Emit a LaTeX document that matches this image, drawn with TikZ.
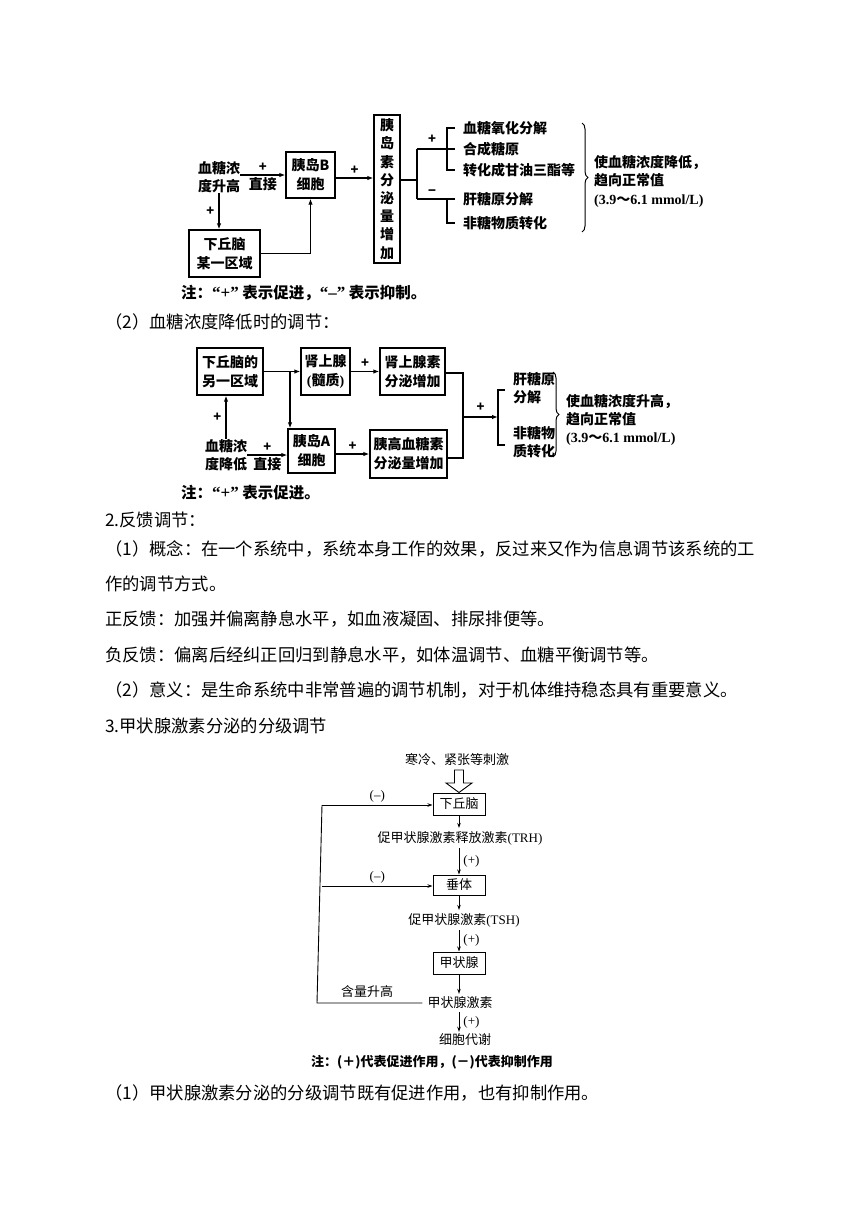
\documentclass[tikz,border=0pt]{standalone}
\usepackage{fontspec}
\setmainfont{Noto Sans CJK SC}
\newfontfamily\lat{Liberation Serif}
\usetikzlibrary{arrows.meta,decorations.pathreplacing}
\begin{document}
\begin{tikzpicture}[x=1pt,y=-1pt,
  body/.style={anchor=west,inner sep=0,font=\fontsize{17.3}{20}\selectfont},
  dtxt/.style={inner sep=0,align=center,font=\fontsize{14}{18}\selectfont\bfseries},
  bx/.style={draw,line width=1.3pt,inner sep=0,align=center,font=\fontsize{14}{19}\selectfont\bfseries},
  ln/.style={line width=1.2pt},
  arr/.style={ln,-{Latex[length=6pt,width=4.5pt]}},
  lab/.style={inner sep=0,font=\fontsize{13}{13}\selectfont\bfseries},
  note/.style={anchor=west,inner sep=0,font=\fontsize{15.5}{15.5}\selectfont\bfseries},
  brc/.style={line width=1pt,decorate,decoration={brace,amplitude=6pt}},
  t3/.style={inner sep=0,align=center,font=\fontsize{13}{13}\selectfont},
  bx3/.style={draw,line width=1pt,inner sep=0,align=center,font=\fontsize{13}{13}\selectfont,minimum width=52pt},
  ln3/.style={line width=0.9pt},
  arr3/.style={ln3,-{Stealth[length=5pt,width=3.5pt]}}
]
\useasboundingbox[fill=white] (0,0) rectangle (860,1216);

% ---------- Diagram 1 ----------
\node[dtxt] (s1) at (219,177) {血糖浓\\度升高};
\node[bx,minimum width=49pt,minimum height=46pt] (B) at (310.5,175) {胰岛B\\细胞};
\node[bx,minimum width=26pt,minimum height=148pt,font=\fontsize{14}{18.2}\selectfont\bfseries] (V) at (387,189) {胰\\岛\\素\\分\\泌\\量\\增\\加};
\node[bx,minimum width=71pt,minimum height=47pt] (H) at (224.5,253.5) {下丘脑\\某一区域};
\draw[arr] (s1.east|-B.west) -- (B.west) node[midway,above=3pt,lab]{+} node[midway,below=2pt,dtxt]{直接};
\draw[arr] (B.east|-0,178) -- (V.west|-0,178) node[midway,above=3pt,lab]{+};
\draw[arr] (s1.south) -- (s1.south|-H.north) node[midway,left=4pt,lab]{+};
\draw[arr] (H.east) -| (B.south);

\node[dtxt,anchor=west] (t1) at (463,128) {血糖氧化分解};
\node[dtxt,anchor=west] (t2) at (463,149) {合成糖原};
\node[dtxt,anchor=west] (t3) at (463,170) {转化成甘油三酯等};
\node[dtxt,anchor=west] (t4) at (463,199) {肝糖原分解};
\node[dtxt,anchor=west] (t5) at (463,223) {非糖物质转化};
\coordinate (j1) at (417,180);
\draw[ln] (V.east|-j1) -- (j1);
\draw[ln] ([xshift=-46pt]t2.west) -- ([xshift=-46pt]t4.west);
\draw[ln] ([xshift=-46pt]t2.west) -- ([xshift=-16pt]t2.west) node[midway,above=5pt,lab]{+};
\draw[ln] ([xshift=-46pt]t4.west) -- ([xshift=-16pt]t4.west) node[midway,above=3pt,lab]{−};
\draw[ln] ([xshift=-8pt]t1.west) -- ([xshift=-16pt]t1.west) -- ([xshift=-16pt]t3.west) -- ([xshift=-8pt]t3.west);
\draw[ln] ([xshift=-16pt]t2.west) -- ([xshift=-8pt]t2.west);
\draw[ln] ([xshift=-8pt]t4.west) -- ([xshift=-16pt]t4.west) -- ([xshift=-16pt]t5.west) -- ([xshift=-8pt]t5.west);
\coordinate (b1a) at (582,123);
\coordinate (b1b) at (582,232);
\draw[brc] (b1a) -- (b1b);
\node[dtxt,anchor=west,align=left,font=\fontsize{14}{18.5}\selectfont\bfseries] (r1) at (594,181) {使血糖浓度降低，\\趋向正常值\\{\lat (3.9}～{\lat 6.1 mmol/L)}};
\node[note] (n1) at (181,293) {注：{\lat\bfseries\fontsize{17}{17}\selectfont “+”} 表示促进，{\lat\bfseries\fontsize{17}{17}\selectfont “–”} 表示抑制。};

\node[body] (p1) at (105,322) {（2）血糖浓度降低时的调节：};

% ---------- Diagram 2 ----------
\node[bx,minimum width=66pt,minimum height=47pt] (D1) at (230,371.5) {下丘脑的\\另一区域};
\node[bx,minimum width=49pt,minimum height=47pt] (S) at (325.5,371.5) {肾上腺\\{\lat (}髓质{\lat )}};
\node[bx,minimum width=65pt,minimum height=47pt] (SS) at (412.5,371.5) {肾上腺素\\分泌增加};
\node[bx,minimum width=47pt,minimum height=44pt] (A) at (311.5,451) {胰岛A\\细胞};
\node[bx,minimum width=77pt,minimum height=48pt] (G) at (408.5,454) {胰高血糖素\\分泌量增加};
\node[dtxt] (s2) at (226,455) {血糖浓\\度降低};
\draw[arr] (D1.east) -- (S.west);
\coordinate (jb) at (290,371.5);
\draw[arr] (jb) -- (jb|-A.north);
\draw[arr] (S.east) -- (SS.west) node[midway,above=3pt,lab]{+};
\draw[arr] (s2.north) -- (s2.north|-D1.south) node[midway,left=4pt,lab]{+};
\draw[arr] (s2.east) -- (s2.east-|A.west) node[midway,above=3pt,lab]{+} node[midway,below=2pt,dtxt]{直接};
\draw[arr] ([yshift=-3pt]A.east) -- ([yshift=-3pt]A.east-|G.west) node[midway,above=3pt,lab]{+};
\coordinate (jc) at (463,417);
\draw[ln] (SS.east|-0,373) -| (jc);
\draw[ln] (G.east|-0,458) -| (jc);
\node[dtxt,anchor=west,align=left] (u1) at (513,388.5) {肝糖原\\分解};
\node[dtxt,anchor=west,align=left] (u2) at (513,442.5) {非糖物\\质转化};
\coordinate (k1) at (498,390);
\coordinate (k2) at (498,445);
\draw[arr] (jc) -- (jc-|k1) node[midway,above=5pt,lab]{+};
\draw[ln] ([xshift=7pt]k1) -- (k1) -- (k2) -- ([xshift=7pt]k2);
\coordinate (b2a) at (553,372);
\coordinate (b2b) at (553,457);
\draw[brc] (b2a) -- (b2b);
\node[dtxt,anchor=west,align=left,font=\fontsize{14}{18}\selectfont\bfseries] (r2) at (566,420) {使血糖浓度升高，\\趋向正常值\\{\lat (3.9}～{\lat 6.1 mmol/L)}};
\node[note] (n2) at (181,493) {注：{\lat\bfseries\fontsize{17}{17}\selectfont “+”} 表示促进。};

% ---------- Text ----------
\node[body] (q1) at (105,520) {2.反馈调节：};
\node[body] (q2) at (105,549) {（1）概念：在一个系统中，系统本身工作的效果，反过来又作为信息调节该系统的工};
\node[body] (q3) at (105,584) {作的调节方式。};
\node[body] (q4) at (105,619) {正反馈：加强并偏离静息水平，如血液凝固、排尿排便等。};
\node[body] (q5) at (105,655) {负反馈：偏离后经纠正回归到静息水平，如体温调节、血糖平衡调节等。};
\node[body] (q6) at (105,690) {（2）意义：是生命系统中非常普遍的调节机制，对于机体维持稳态具有重要意义。};
\node[body] (q7) at (105,726) {3.甲状腺激素分泌的分级调节};

% ---------- Diagram 3 ----------
\node[t3] (st) at (457,760) {寒冷、紧张等刺激};
\node[bx3,minimum height=22pt] (H3) at (459,804) {下丘脑};
\node[bx3,minimum height=20pt] (P3) at (459,885) {垂体};
\node[bx3,minimum height=22pt] (T3) at (459,963) {甲状腺};
\node[t3] (trh) at (460,838) {促甲状腺激素释放激素{\lat (TRH)}};
\node[t3] (tsh) at (464,920) {促甲状腺激素{\lat (TSH)}};
\node[t3] (th) at (460,1003) {甲状腺激素};
\node[t3] (cm) at (465,1040) {细胞代谢};
\draw[ln3] (454.5,770) -- (454.5,783) -- (446,783) -- (H3.north) -- (472,783) -- (463.5,783) -- (463.5,770) -- cycle;
\draw[arr3] (H3.south) -- ([yshift=3pt]H3.south|-trh.north);
\draw[arr3] ([yshift=-3pt]H3.south|-trh.south) -- (P3.north) node[midway,right=4pt,t3]{\lat (+)};
\draw[arr3] (P3.south) -- ([yshift=3pt]P3.south|-tsh.north);
\draw[arr3] ([yshift=-3pt]P3.south|-tsh.south) -- (T3.north) node[midway,right=4pt,t3]{\lat (+)};
\draw[arr3] (T3.south) -- ([yshift=3pt]T3.south|-th.north);
\draw[arr3] ([yshift=-3pt]T3.south|-th.south) -- ([yshift=2pt]T3.south|-cm.north) node[midway,right=4pt,t3]{\lat (+)};
\coordinate (fb1) at (322,805);
\coordinate (fb2) at (322,886);
\draw[ln3] ([xshift=-5pt]th.west) -- ([xshift=-5pt]th.west-|fb1) -- (fb1);
\draw[arr3] (fb1) -- (fb1-|H3.west) node[midway,above=2pt,t3]{\lat (–)};
\draw[arr3] (fb2) -- (fb2-|P3.west) node[midway,above=2pt,t3]{\lat (–)};
\node[t3,anchor=south] (hl) at (367,998) {含量升高};
\node[t3,font=\fontsize{13}{13}\selectfont\bfseries] (n3) at (432,1062) {注：(＋)代表促进作用，(－)代表抑制作用};

\node[body] (q8) at (105,1093) {（1）甲状腺激素分泌的分级调节既有促进作用，也有抑制作用。};
\end{tikzpicture}
\end{document}
